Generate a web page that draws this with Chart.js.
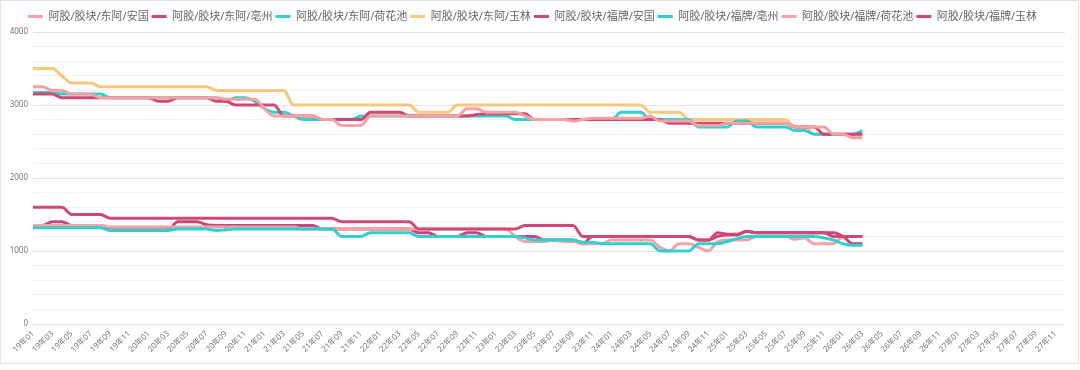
<!DOCTYPE html>
<html>
<head>
<meta charset="utf-8">
<script src="https://cdn.jsdelivr.net/npm/chart.js@4.4.0/dist/chart.umd.min.js"></script>
<style>
  body { margin: 0; background: #fff; }
  #frame { position: absolute; left: 0; top: 0; width: 1077px; height: 362px; border: 1px solid #e4e4e4; }
  #wrap { position: absolute; left: 0; top: 0; width: 1080px; height: 370px; }
</style>
</head>
<body>
<div id="frame"></div>
<div id="wrap"><canvas id="priceChart" width="1080" height="370"></canvas></div>
<script>
// x axis: monthly categories 19年01 .. 27年12
const years = ["19", "20", "21", "22", "23", "24", "25", "26", "27"]
const months = ["01", "02", "03", "04", "05", "06", "07", "08", "09", "10", "11", "12"]
const labels = []
years.forEach(y => months.forEach(m => labels.push(y + "年" + m)))

const seriesNames = [
    "阿胶/胶块/东阿/安国",
    "阿胶/胶块/东阿/亳州",
    "阿胶/胶块/东阿/荷花池",
    "阿胶/胶块/东阿/玉林",
    "阿胶/胶块/福牌/安国",
    "阿胶/胶块/福牌/亳州",
    "阿胶/胶块/福牌/荷花池",
    "阿胶/胶块/福牌/玉林"
]

// one row per year (19 .. 26年03)
const dongaAnguo = [
    3250, 3250, 3200, 3200, 3150, 3150, 3150, 3100, 3100, 3100, 3100, 3100,
    3100, 3100, 3100, 3100, 3100, 3100, 3100, 3100, 3080, 3080, 3080, 3080,
    2950, 2850, 2850, 2850, 2850, 2850, 2800, 2800, 2720, 2720, 2720, 2850,
    2850, 2850, 2850, 2850, 2850, 2850, 2850, 2850, 2850, 2950, 2950, 2900,
    2900, 2900, 2900, 2850, 2800, 2800, 2800, 2800, 2780, 2800, 2820, 2820,
    2820, 2820, 2820, 2820, 2850, 2780, 2780, 2780, 2780, 2720, 2720, 2720,
    2750, 2750, 2750, 2750, 2750, 2750, 2750, 2700, 2700, 2700, 2700, 2600,
    2600, 2550, 2550
]
const dongaBozhou = [
    3150, 3150, 3150, 3100, 3100, 3100, 3100, 3100, 3100, 3100, 3100, 3100,
    3100, 3050, 3050, 3100, 3100, 3100, 3100, 3050, 3050, 3000, 3000, 3000,
    3000, 3000, 2850, 2850, 2850, 2850, 2800, 2800, 2800, 2800, 2800, 2900,
    2900, 2900, 2900, 2850, 2850, 2850, 2850, 2850, 2850, 2850, 2870, 2880,
    2880, 2880, 2880, 2880, 2800, 2800, 2800, 2800, 2800, 2800, 2800, 2800,
    2800, 2800, 2800, 2800, 2800, 2800, 2750, 2750, 2750, 2750, 2750, 2750,
    2750, 2750, 2750, 2750, 2750, 2750, 2750, 2700, 2700, 2700, 2600, 2600,
    2600, 2600, 2600
]
const dongaHehuachi = [
    3170, 3170, 3170, 3150, 3150, 3150, 3150, 3150, 3100, 3100, 3100, 3100,
    3100, 3100, 3100, 3100, 3100, 3100, 3100, 3100, 3050, 3100, 3100, 3050,
    2950, 2900, 2900, 2850, 2800, 2800, 2800, 2800, 2800, 2800, 2850, 2850,
    2850, 2850, 2850, 2850, 2850, 2850, 2850, 2850, 2850, 2850, 2850, 2850,
    2850, 2850, 2800, 2800, 2800, 2800, 2800, 2800, 2800, 2800, 2800, 2800,
    2800, 2900, 2900, 2900, 2800, 2800, 2800, 2800, 2800, 2700, 2700, 2700,
    2700, 2780, 2780, 2700, 2700, 2700, 2700, 2650, 2650, 2600, 2600, 2600,
    2600, 2600, 2650
]
const dongaYulin = [
    3500, 3500, 3500, 3400, 3300, 3300, 3300, 3250, 3250, 3250, 3250, 3250,
    3250, 3250, 3250, 3250, 3250, 3250, 3250, 3200, 3200, 3200, 3200, 3200,
    3200, 3200, 3200, 3000, 3000, 3000, 3000, 3000, 3000, 3000, 3000, 3000,
    3000, 3000, 3000, 3000, 2900, 2900, 2900, 2900, 3000, 3000, 3000, 3000,
    3000, 3000, 3000, 3000, 3000, 3000, 3000, 3000, 3000, 3000, 3000, 3000,
    3000, 3000, 3000, 3000, 2900, 2900, 2900, 2900, 2800, 2800, 2800, 2800,
    2800, 2800, 2800, 2800, 2800, 2800, 2800, 2700, 2700, 2600, 2600, 2600,
    2600, 2600, 2600
]
const fupaiAnguo = [
    1600, 1600, 1600, 1600, 1500, 1500, 1500, 1500, 1450, 1450, 1450, 1450,
    1450, 1450, 1450, 1450, 1450, 1450, 1450, 1450, 1450, 1450, 1450, 1450,
    1450, 1450, 1450, 1450, 1450, 1450, 1450, 1450, 1400, 1400, 1400, 1400,
    1400, 1400, 1400, 1400, 1300, 1300, 1300, 1300, 1300, 1300, 1300, 1300,
    1300, 1300, 1300, 1350, 1350, 1350, 1350, 1350, 1350, 1200, 1200, 1200,
    1200, 1200, 1200, 1200, 1200, 1200, 1200, 1200, 1200, 1150, 1150, 1250,
    1230, 1230, 1270, 1250, 1250, 1250, 1250, 1250, 1250, 1250, 1250, 1200,
    1200, 1200, 1200
]
const fupaiBozhou = [
    1320, 1320, 1320, 1320, 1320, 1320, 1320, 1320, 1280, 1280, 1280, 1280,
    1280, 1280, 1280, 1300, 1300, 1300, 1300, 1280, 1290, 1300, 1300, 1300,
    1300, 1300, 1300, 1300, 1300, 1300, 1300, 1300, 1200, 1200, 1200, 1250,
    1250, 1250, 1250, 1250, 1200, 1200, 1200, 1200, 1200, 1200, 1200, 1200,
    1200, 1200, 1200, 1180, 1150, 1150, 1150, 1150, 1150, 1120, 1120, 1100,
    1100, 1100, 1100, 1100, 1100, 1000, 1000, 1000, 1000, 1100, 1100, 1100,
    1130, 1170, 1200, 1200, 1200, 1200, 1200, 1200, 1200, 1200, 1180, 1150,
    1100, 1080, 1080
]
const fupaiHehuachi = [
    1350, 1350, 1350, 1350, 1350, 1350, 1350, 1350, 1330, 1330, 1330, 1330,
    1330, 1330, 1330, 1330, 1330, 1330, 1330, 1330, 1330, 1330, 1330, 1330,
    1330, 1330, 1330, 1330, 1300, 1300, 1300, 1300, 1300, 1300, 1300, 1300,
    1300, 1300, 1300, 1300, 1300, 1300, 1300, 1300, 1300, 1300, 1300, 1300,
    1300, 1300, 1200, 1130, 1130, 1130, 1150, 1130, 1130, 1100, 1100, 1100,
    1150, 1150, 1150, 1150, 1150, 1050, 1000, 1100, 1100, 1050, 1000, 1130,
    1150, 1150, 1150, 1200, 1200, 1200, 1200, 1160, 1180, 1100, 1100, 1100,
    1200, 1200, 1200
]
const fupaiYulin = [
    1350, 1350, 1400, 1400, 1350, 1350, 1350, 1350, 1290, 1290, 1290, 1290,
    1290, 1290, 1290, 1400, 1400, 1400, 1360, 1350, 1350, 1350, 1350, 1350,
    1350, 1350, 1350, 1350, 1350, 1350, 1300, 1300, 1300, 1300, 1300, 1300,
    1300, 1300, 1300, 1300, 1250, 1250, 1200, 1200, 1200, 1250, 1250, 1200,
    1200, 1200, 1200, 1200, 1200, 1150, 1150, 1150, 1150, 1100, 1200, 1200,
    1200, 1200, 1200, 1200, 1200, 1200, 1200, 1200, 1200, 1150, 1150, 1200,
    1220, 1220, 1270, 1250, 1250, 1250, 1250, 1250, 1250, 1250, 1250, 1250,
    1200, 1100, 1100
]

const seriesData = [dongaAnguo, dongaBozhou, dongaHehuachi, dongaYulin, fupaiAnguo, fupaiBozhou, fupaiHehuachi, fupaiYulin]
const lineColors = ["#f5a2a5", "#d04873", "#2fd0d0", "#f9c87c", "#cf4a74", "#2fd0d0", "#f5a2a5", "#c9457a"]

Chart.defaults.font.family = '"Noto Sans", "Noto Sans CJK SC", sans-serif'

new Chart("priceChart", {
    type: "line",
    data: {
        labels: labels,
        datasets: seriesNames.map((name, i) => ({
            label: name,
            data: seriesData[i],
            borderColor: lineColors[i],
            backgroundColor: lineColors[i],
            borderWidth: 3,
            pointRadius: 0,
            cubicInterpolationMode: "monotone",
            fill: false
        }))
    },
    options: {
        responsive: false,
        animation: false,
        devicePixelRatio: 1,
        layout: { padding: { top: 8, right: 15, left: 0, bottom: 0 } },
        plugins: {
            tooltip: { enabled: false },
            legend: {
                position: "top",
                labels: {
                    color: "#666",
                    font: { size: 11 },
                    boxWidth: 15,
                    boxHeight: 3,
                    padding: 3,
                    generateLabels(chart) {
                        return Chart.defaults.plugins.legend.labels.generateLabels(chart)
                            .map(item => Object.assign(item, { lineWidth: 0 }))
                    }
                }
            }
        },
        scales: {
            x: {
                grid: { display: false, drawTicks: false },
                border: { display: false },
                afterFit(scale) { scale.height = 46 },
                ticks: {
                    autoSkip: false,
                    maxRotation: 45,
                    minRotation: 45,
                    padding: 5,
                    color: "#777",
                    font: { size: 8 },
                    callback(value, index) {
                        return index % 2 === 0 ? this.getLabelForValue(value) : ""
                    }
                }
            },
            y: {
                min: 0,
                max: 4000,
                border: { display: false },
                afterFit(scale) { scale.width = 33 },
                grid: {
                    drawTicks: false,
                    color: ctx => ctx.tick && ctx.tick.value % 500 === 0 ? "#e3e3e3" : "#f3f3f3"
                },
                ticks: {
                    stepSize: 100,
                    padding: 5,
                    color: "#777",
                    font: { size: 8 },
                    callback: value => value % 500 === 0 ? value : ""
                }
            }
        }
    }
})
</script>
</body>
</html>
